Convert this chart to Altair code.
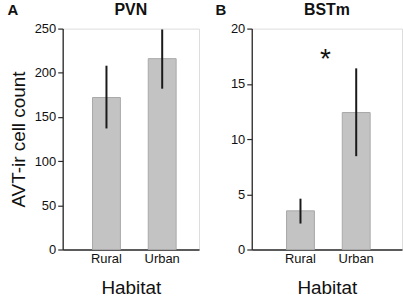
import altair as alt
import pandas as pd

habitats = ["Rural", "Urban"]

pvn_mean = [172, 216]
pvn_lo = [137, 182]
pvn_hi = [208, 249]

bst_mean = [3.5, 12.4]
bst_lo = [2.35, 8.45]
bst_hi = [4.6, 16.4]

pvn_ticks = [0, 50, 100, 150, 200, 250]
bst_ticks = [0, 5, 10, 15, 20]

FONT = "Liberation Sans"
BAR_FILL = "#c3c3c3"
BAR_STROKE = "#a8a8a8"
AX = "#2a2a2a"


def panel(mean, lo, hi, ticks, title, letter, width, pad_outer, align,
          ytitle, letter_x, star=False):
    df = pd.DataFrame({"Habitat": habitats, "mean": mean, "lo": lo, "hi": hi})
    xs = alt.X("Habitat:N", sort=habitats,
               scale=alt.Scale(paddingInner=0.5, paddingOuter=pad_outer, align=align),
               axis=alt.Axis(title="Habitat", labelAngle=0, ticks=False,
                             domainColor=AX, domainWidth=1.3,
                             labelFont=FONT, labelFontSize=13, labelColor="#111",
                             labelPadding=3, titleFont=FONT, titleFontSize=19,
                             titleFontWeight="normal", titleColor="#111",
                             titlePadding=13))
    yaxis = alt.Axis(values=ticks, grid=False, tickSize=5, tickColor=AX,
                     tickWidth=1.2, domainColor=AX, domainWidth=1.3,
                     labelFont=FONT, labelFontSize=13, labelColor="#111",
                     labelPadding=2, titleFont=FONT, titleFontSize=19,
                     titleFontWeight="normal", titleColor="#111", titlePadding=6)
    yscale = alt.Scale(domain=[ticks[0], ticks[-1]], nice=False)
    if ytitle:
        ys = alt.Y("mean:Q", scale=yscale, axis=yaxis, title=ytitle)
    else:
        ys = alt.Y("mean:Q", scale=yscale, axis=yaxis, title=None)
    base = alt.Chart(df)
    bars = base.mark_bar(fill=BAR_FILL, stroke=BAR_STROKE, strokeWidth=1).encode(
        x=xs, y=ys)
    err = base.mark_rule(color="#1a1a1a", strokeWidth=2).encode(
        x=alt.X("Habitat:N", sort=habitats), y="lo:Q", y2="hi:Q")
    lab = alt.Chart(pd.DataFrame({"t": [letter]})).mark_text(
        font=FONT, fontSize=15, fontWeight="bold", color="#111",
        align="center", baseline="top").encode(
        text="t:N", x=alt.value(letter_x), y=alt.value(-26))
    ttl = alt.Chart(pd.DataFrame({"t": [title]})).mark_text(
        font=FONT, fontSize=16, fontWeight="bold", color="#111",
        align="center", baseline="top").encode(
        text="t:N", x=alt.value(width / 2), y=alt.value(-27))
    layers = [bars, err, lab, ttl]
    if star:
        st = alt.Chart(pd.DataFrame({"t": ["*"]})).mark_text(
            font=FONT, fontSize=28, color="#111", align="center",
            baseline="middle").encode(
            text="t:N", x=alt.value(74), y=alt.value(32))
        layers.append(st)
    return alt.layer(*layers).properties(width=width, height=222)


left = panel(pvn_mean, pvn_lo, pvn_hi, pvn_ticks, "PVN", "A", 137, 0.473, 0.566,
             "AVT-ir cell count", -50)
right = panel(bst_mean, bst_lo, bst_hi, bst_ticks, "BSTm", "B", 151, 0.598, 0.522,
              None, -31, star=True)

chart = alt.hconcat(left, right, spacing=15).properties(
    padding={"left": 7, "right": 0, "top": 0, "bottom": 0}
).configure_view(stroke=None).configure(background="white")

chart.save("out.html", embed_options={"renderer": "svg", "actions": False})
